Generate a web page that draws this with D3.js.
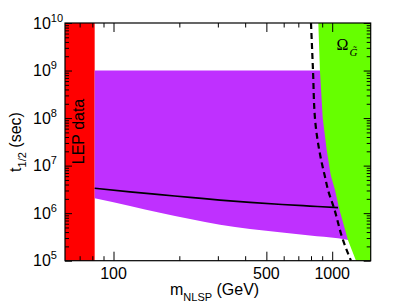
<!DOCTYPE html>
<html>
<head>
<meta charset="utf-8">
<script src="https://cdn.jsdelivr.net/npm/d3@7"></script>
<style>
  body { margin: 0; background: #fff; }
  svg { display: block; font-family: "Liberation Sans", Arial, sans-serif; }
</style>
</head>
<body>
<div id="chart"></div>
<script>
// Chart data (mass in GeV, half-life in seconds)
const lepLimit = 82;
const purpleTop = 1e9;
const purpleBottom = [
    [82, 2.06e6], [119, 1.42e6], [163, 1.02e6], [224, 7.5e5], [307, 5.7e5],
    [421, 4.65e5], [590, 3.93e5], [791, 3.4e5], [1063, 2.97e5], [1180, 2.73e5]
];
const solidLine = [
    [82, 3.34e6], [119, 2.8e6], [163, 2.45e6], [224, 2.15e6], [307, 1.88e6],
    [421, 1.68e6], [590, 1.52e6], [791, 1.41e6], [1063, 1.31e6]
];
const greenEdge = [
    [864, 1e10], [879, 1e9], [905, 1e8], [944, 2.14e7], [985, 6.3e6],
    [1030, 3.08e6], [1074, 1.29e6], [1180, 2.73e5], [1285, 1e5]
];
const dashedLine = [
    [800, 1e10], [817, 1e9], [834, 1e8], [885, 1.5e7], [927, 5.8e6],
    [957, 3.08e6], [1019, 1.29e6], [1120, 2.73e5], [1218, 1e5]
];
const xMajorTicks = [100, 500, 1000];
const xMinorTicks = [70, 80, 90, 200, 300, 400, 600, 700, 800, 900];
const yExponents = [5, 6, 7, 8, 9, 10];

function createChart() {
    const width = 409;
    const height = 308;
    const margin = { top: 23, right: 38.3, bottom: 47.3, left: 65 };
    const w = width - margin.left - margin.right;
    const h = height - margin.top - margin.bottom;

    const svg = d3.select("#chart").append("svg")
        .attr("width", width)
        .attr("height", height);

    const g = svg.append("g")
        .attr("transform", `translate(${margin.left},${margin.top})`);

    const x = d3.scaleLog().domain([60, 1500]).range([0, w]);
    const y = d3.scaleLog().domain([1e5, 1e10]).range([h, 0]);

    const yMajor = yExponents.map(e => Math.pow(10, e));
    const yMinor = [];
    yExponents.slice(0, -1).forEach(e => {
        for (let k = 2; k <= 9; k++) yMinor.push(k * Math.pow(10, e));
    });

    // LEP excluded band
    g.append("rect")
        .attr("x", 0)
        .attr("y", 0)
        .attr("width", x(lepLimit))
        .attr("height", h)
        .attr("fill", "#ff0000");

    // purple allowed region: smooth lower edge, flat top at 1e9
    const last = purpleBottom[purpleBottom.length - 1];
    const bottomPath = d3.line().x(d => x(d[0])).y(d => y(d[1])).curve(d3.curveMonotoneX)(purpleBottom);
    g.append("path")
        .attr("d", bottomPath +
            `L${x(last[0])},${y(purpleTop)}L${x(lepLimit)},${y(purpleTop)}Z`)
        .attr("fill", "#bf30ff");

    // green region (gravitino overclosure)
    const greenPoly = greenEdge.concat([[1500, 1e5], [1500, 1e10]]);
    g.append("path")
        .attr("d", d3.line().x(d => x(d[0])).y(d => y(d[1]))(greenPoly) + "Z")
        .attr("fill", "#66ff00");

    g.append("path")
        .attr("d", d3.line().x(d => x(d[0])).y(d => y(d[1])).curve(d3.curveMonotoneX)(solidLine))
        .attr("fill", "none")
        .attr("stroke", "#000")
        .attr("stroke-width", 1.7);

    g.append("path")
        .attr("d", d3.line().x(d => x(d[0])).y(d => y(d[1])).curve(d3.curveMonotoneY)(dashedLine))
        .attr("fill", "none")
        .attr("stroke", "#000")
        .attr("stroke-width", 2.2)
        .attr("stroke-dasharray", "6,4");

    // labels inside the plot
    g.append("text")
        .attr("transform", `translate(${x(lepLimit) - 11},${108.5}) rotate(-90)`)
        .attr("text-anchor", "middle")
        .attr("font-size", 16)
        .text("LEP data");

    const omega = g.append("text")
        .attr("x", 271.5)
        .attr("y", 27)
        .attr("font-family", "'Liberation Serif', serif")
        .attr("font-size", 16);
    omega.append("tspan").text("\u03A9");
    omega.append("tspan")
        .attr("dx", 1)
        .attr("dy", 6)
        .attr("font-size", 11)
        .attr("font-style", "italic")
        .text("G\u0303");

    // axes with inward ticks
    function addAxis(axis, transform) {
        const a = g.append("g")
            .attr("transform", transform)
            .call(axis);
        a.select(".domain").remove();
        a.selectAll("line").attr("stroke", "#000").attr("stroke-width", 1);
    }
    addAxis(d3.axisBottom(x).tickValues(xMajorTicks).tickSize(-9).tickFormat(""), `translate(0,${h})`);
    addAxis(d3.axisBottom(x).tickValues(xMinorTicks).tickSize(-4.5).tickFormat(""), `translate(0,${h})`);
    addAxis(d3.axisTop(x).tickValues(xMajorTicks).tickSize(-9).tickFormat(""), "translate(0,0)");
    addAxis(d3.axisTop(x).tickValues(xMinorTicks).tickSize(-4.5).tickFormat(""), "translate(0,0)");
    addAxis(d3.axisLeft(y).tickValues(yMajor).tickSize(-7).tickFormat(""), "translate(0,0)");
    addAxis(d3.axisLeft(y).tickValues(yMinor).tickSize(-4).tickFormat(""), "translate(0,0)");
    addAxis(d3.axisRight(y).tickValues(yMajor).tickSize(-7).tickFormat(""), `translate(${w},0)`);
    addAxis(d3.axisRight(y).tickValues(yMinor).tickSize(-4).tickFormat(""), `translate(${w},0)`);

    g.append("rect")
        .attr("width", w)
        .attr("height", h)
        .attr("fill", "none")
        .attr("stroke", "#000")
        .attr("stroke-width", 1.2);

    // tick labels
    g.selectAll(".xlabel")
        .data(xMajorTicks)
        .join("text")
        .attr("class", "xlabel")
        .attr("x", d => x(d))
        .attr("y", h + 18.5)
        .attr("text-anchor", "middle")
        .attr("font-size", 16)
        .text(d => d);

    const ylab = g.selectAll(".ylabel")
        .data(yExponents)
        .join("text")
        .attr("class", "ylabel")
        .attr("x", -32)
        .attr("y", d => y(Math.pow(10, d)) + 5.5)
        .attr("font-size", 16);
    ylab.append("tspan").text("10");
    ylab.append("tspan")
        .attr("dy", -7)
        .attr("font-size", 11)
        .text(d => d);

    // axis titles
    const xt = svg.append("text")
        .attr("x", 170)
        .attr("y", 295)
        .attr("font-size", 16);
    xt.append("tspan").text("m");
    xt.append("tspan").attr("dy", 6).attr("font-size", 11).text("NLSP");
    xt.append("tspan").attr("dy", -6).text(" (GeV)");

    const yt = svg.append("text")
        .attr("transform", "translate(21,142) rotate(-90)")
        .attr("text-anchor", "middle")
        .attr("font-size", 16);
    yt.append("tspan").text("t");
    yt.append("tspan").attr("dy", 5).attr("font-size", 11).text("1/2");
    yt.append("tspan").attr("dy", -5).text(" (sec)");
}

createChart();
</script>
</body>
</html>
